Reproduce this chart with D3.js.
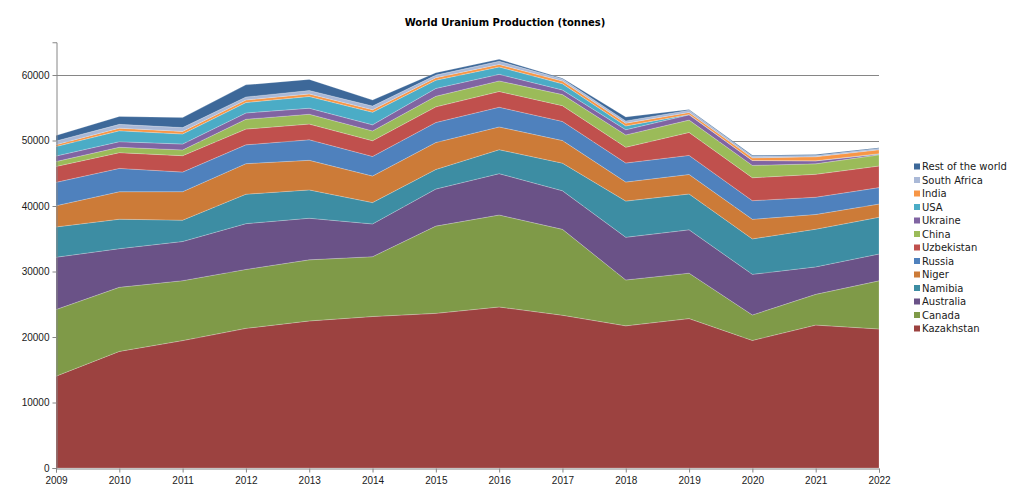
<!DOCTYPE html>
<html>
<head>
<meta charset="utf-8">
<script src="https://cdn.jsdelivr.net/npm/d3@7"></script>
<style>
  html, body { margin: 0; padding: 0; background: #fff; }
  svg { display: block; font-family: "DejaVu Sans", Verdana, sans-serif; }
</style>
</head>
<body>
<svg id="chart" width="1011" height="495"></svg>
<script>
// ---- data ----
const years = [2009, 2010, 2011, 2012, 2013, 2014, 2015, 2016, 2017, 2018, 2019, 2020, 2021, 2022];
const kazakhstan  = [14020, 17803, 19451, 21317, 22451, 23127, 23607, 24586, 23321, 21705, 22808, 19477, 21819, 21227];
const canada      = [10173, 9783, 9145, 8999, 9331, 9134, 13325, 14039, 13116, 7001, 6938, 3885, 4693, 7351];
const australia   = [7982, 5900, 5983, 6991, 6350, 5001, 5654, 6315, 5882, 6517, 6613, 6203, 4192, 4087];
const namibia     = [4626, 4496, 3258, 4495, 4323, 3255, 2993, 3654, 4224, 5525, 5476, 5413, 5753, 5613];
const niger       = [3243, 4198, 4351, 4667, 4518, 4057, 4116, 3479, 3449, 2911, 2983, 2991, 2248, 2020];
const russia      = [3564, 3562, 2993, 2872, 3135, 2990, 3055, 3004, 2917, 2904, 2911, 2846, 2635, 2508];
const uzbekistan  = [2429, 2400, 2500, 2400, 2400, 2400, 2385, 2404, 2404, 2404, 3500, 3500, 3500, 3300];
const china       = [750, 827, 885, 1500, 1500, 1500, 1616, 1616, 1692, 1885, 1885, 1885, 1600, 1700];
const ukraine     = [840, 850, 890, 960, 922, 926, 1200, 1005, 707, 790, 800, 744, 455, 100];
const usa         = [1453, 1660, 1537, 1596, 1792, 1919, 1256, 1125, 940, 582, 58, 6, 8, 75];
const india       = [290, 400, 400, 385, 385, 385, 385, 385, 421, 423, 308, 400, 615, 600];
const southAfrica = [563, 583, 582, 465, 531, 573, 393, 490, 308, 346, 346, 250, 192, 200];
const restOfWorld = [839, 1209, 1518, 1846, 1693, 913, 365, 300, 110, 600, 116, 131, 150, 100];

const seriesNames = ["Kazakhstan", "Canada", "Australia", "Namibia", "Niger", "Russia", "Uzbekistan",
                     "China", "Ukraine", "USA", "India", "South Africa", "Rest of the world"];
const seriesValues = [kazakhstan, canada, australia, namibia, niger, russia, uzbekistan,
                      china, ukraine, usa, india, southAfrica, restOfWorld];
const seriesColors = ["#9C4240", "#7F9A48", "#6A5287", "#3D8DA3", "#CC7B38", "#4F81BD", "#C0504D",
                      "#9BBB59", "#8064A2", "#4BACC6", "#F79646", "#AAB9D7", "#3D6899"];
const yTicks = [0, 10000, 20000, 30000, 40000, 50000, 60000];
const title = "World Uranium Production (tonnes)";

// ---- build table ----
const table = years.map((yr, i) => {
  const row = { year: yr };
  seriesNames.forEach((n, k) => { row[n] = seriesValues[k][i]; });
  return row;
});

const svg = d3.select("#chart");
const margin = { left: 56, right: 132, top: 42.25, bottom: 27 };
const W = 1011, H = 495;

const x = d3.scaleLinear().domain([2009, 2022]).range([margin.left, W - margin.right]);
const y = d3.scaleLinear().domain([0, 65000]).range([H - margin.bottom, margin.top]);

// gridlines (behind)
svg.append("g")
  .selectAll("line")
  .data(yTicks.filter(d => d > 0))
  .join("line")
  .attr("x1", x(2009)).attr("x2", x(2022))
  .attr("y1", d => Math.round(y(d)) + 0.5).attr("y2", d => Math.round(y(d)) + 0.5)
  .attr("stroke", "#868686").attr("stroke-width", 1);

// stacked areas
const stack = d3.stack().keys(seriesNames);
const layers = stack(table);
const area = d3.area()
  .x(d => x(d.data.year))
  .y0(d => y(d[0]))
  .y1(d => y(d[1]))
  .curve(d3.curveLinear);

svg.append("g")
  .selectAll("path")
  .data(layers)
  .join("path")
  .attr("d", area)
  .attr("fill", (d, i) => seriesColors[i])
  .attr("stroke", "rgba(255,255,255,0.35)")
  .attr("stroke-width", 0.6);

// axes
const yAxis = d3.axisLeft(y).tickValues(yTicks).tickSize(4).tickPadding(3).tickFormat(d3.format("d"));
const gy = svg.append("g").attr("transform", `translate(${margin.left + 0.5},0)`).call(yAxis);
gy.select(".domain").attr("stroke", "#868686");
gy.selectAll(".tick line").attr("stroke", "#868686");
gy.selectAll(".tick text").attr("fill", "#1a1a1a").style("font-size", "10px");

const xAxis = d3.axisBottom(x).tickValues(years).tickSize(4).tickPadding(4).tickFormat(d3.format("d"));
const gx = svg.append("g").attr("transform", `translate(0,${H - margin.bottom + 0.5})`).call(xAxis);
gx.select(".domain").attr("stroke", "#868686");
gx.selectAll(".tick line").attr("stroke", "#868686");
gx.selectAll(".tick text").attr("fill", "#1a1a1a").style("font-size", "10px");

// title
svg.append("text")
  .attr("x", 505).attr("y", 26)
  .attr("text-anchor", "middle")
  .style("font-size", "10px").style("font-weight", "bold")
  .attr("fill", "#000")
  .text(title);

// legend (reverse order, top = last series)
const legendItems = seriesNames.map((n, i) => ({ name: n, color: seriesColors[i] })).reverse();
const lg = svg.append("g").attr("transform", "translate(914,166.5)");
const li = lg.selectAll("g").data(legendItems).join("g")
  .attr("transform", (d, i) => `translate(0,${i * 13.5})`);
li.append("rect").attr("x", 0).attr("y", -3).attr("width", 6).attr("height", 6).attr("fill", d => d.color);
li.append("text").attr("x", 8).attr("y", 0).attr("dy", "0.35em")
  .style("font-size", "10px").attr("fill", "#1a1a1a").text(d => d.name);
</script>
</body>
</html>
